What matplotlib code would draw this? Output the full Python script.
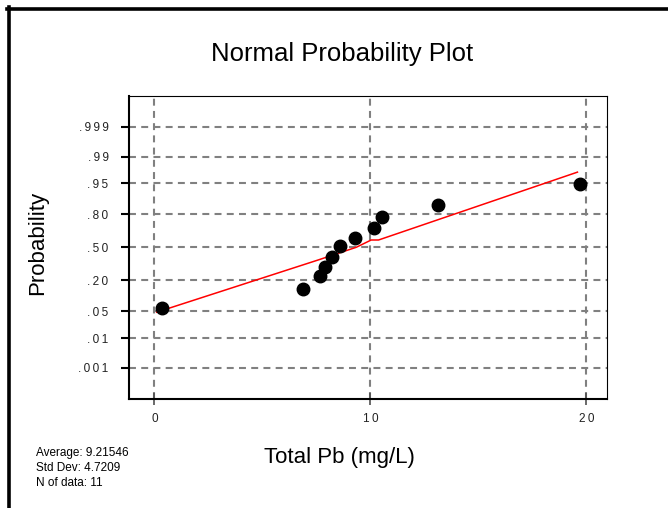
import matplotlib
matplotlib.use('Agg')
import matplotlib.pyplot as plt
from matplotlib.lines import Line2D
from statistics import NormalDist

#=======================================================================
#                     data
#=======================================================================
pb   = [0.34, 6.88, 7.65, 7.88, 8.22, 8.61, 9.30, 10.19, 10.53, 13.15, 19.71]
prob = [0.059, 0.14, 0.233, 0.31, 0.405, 0.516, 0.597, 0.692, 0.779, 0.863, 0.947]

fit_pb   = [0.11, 7.58, 9.35, 10.04, 10.38, 19.59]
fit_prob = [0.048, 0.372, 0.50, 0.574, 0.574, 0.973]

prob_ticks  = [0.001, 0.01, 0.05, 0.20, 0.50, 0.80, 0.95, 0.99, 0.999]
prob_labels = ['.001', '.01', '.05', '.20', '.50', '.80', '.95', '.99', '.999']
pb_ticks  = [0, 10, 20]
pb_labels = ['0', '10', '20']

stats = ['Average: 9.21546', 'Std Dev: 4.7209', 'N of data: 11']

#=======================================================================
#                     probability -> normal score
#=======================================================================
nd = NormalDist()
def zscore(p):
    return [nd.inv_cdf(v) for v in p]

def spaced(s):
    # the original labels are drawn with wide letter spacing
    return '\u2009'.join(s)

plt.rcParams['font.family'] = ['Liberation Sans', 'DejaVu Sans']
plt.rcParams['lines.scale_dashes'] = False

fig = plt.figure(figsize=(6.68, 5.08), dpi=100)
ax = fig.add_axes([0.1924, 0.2146, 0.717, 0.5965])

ax.plot(fit_pb, zscore(fit_prob), color='red', lw=1.1, zorder=3)
ax.plot(pb, zscore(prob), 'o', color='black', ms=9, zorder=4)

ax.set_xlim(-1.195, 20.98)
ax.set_ylim(-3.89, 3.88)
ax.set_xticks(pb_ticks)
ax.set_xticklabels([spaced(s) for s in pb_labels], fontsize=8.5, color='#222222')
ax.set_yticks(zscore(prob_ticks))
ax.set_yticklabels([spaced(s) for s in prob_labels], fontsize=8.5, color='#222222')

ax.set_axisbelow(True)
ax.grid(True, color='#808080', lw=1.5, linestyle=(0, (5, 3.8)))

ax.tick_params(axis='y', direction='out', length=5.8, width=1.5, color='black', pad=8.6)
ax.tick_params(axis='x', direction='inout', length=8.6, width=1.2, color='#505050', pad=6)

for side in ['left', 'bottom']:
    ax.spines[side].set_linewidth(1.5)
for side in ['top', 'right']:
    ax.spines[side].set_linewidth(0.8)

#=======================================================================
#                     titles and labels
#=======================================================================
W, H = 668.0, 508.0
fig.text(342/W, 1-54/H, 'Normal Probability Plot', fontsize=18.5, ha='center', va='center')
fig.text(38/W, 1-243/H, 'Probability', fontsize=16, rotation=90, ha='center', va='center')
fig.text(339/W, 1-457/H, 'Total Pb (mg/L)', fontsize=16, ha='center', va='center')
fig.text(36.5/W, 1-447/H, '\n'.join(stats), fontsize=8.5, ha='left', va='top', linespacing=1.32)

# frame of the original window (only top and left are visible)
fig.add_artist(Line2D([8.5/W, 8.5/W], [0, 1-7/H], transform=fig.transFigure, color='black', lw=2.6))
fig.add_artist(Line2D([7/W, 1], [1-8.5/H, 1-8.5/H], transform=fig.transFigure, color='black', lw=2.6))

fig.savefig('out.png', dpi=100)
